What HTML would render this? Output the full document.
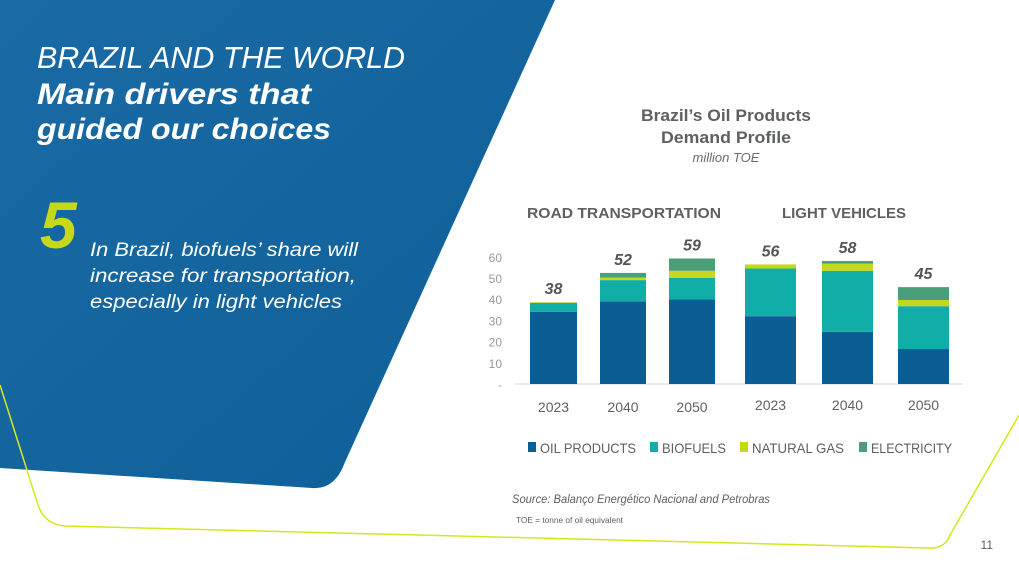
<!DOCTYPE html>
<html><head><meta charset="utf-8"><style>
html,body{margin:0;padding:0;background:#fff}
svg{display:block}
text{font-family:"Liberation Sans",sans-serif}
</style></head><body>
<svg id="s" width="1019" height="573" viewBox="0 0 1019 573" xmlns="http://www.w3.org/2000/svg">
<defs><linearGradient id="g" x1="0" y1="0" x2="1" y2="1"><stop offset="0" stop-color="#1a6aa5"/><stop offset="1" stop-color="#0e5e97"/></linearGradient></defs>
<path d="M0 0 L555 0 L345 462 Q335 490 312 488 L0 468 Z" fill="url(#g)"/>
<path d="M0 385 L38 505 Q45 525 65 526 L928 548 Q945 549 950 535 L1019 415" fill="none" stroke="#d4e81c" stroke-width="1.5"/>
<text x="37" y="68" fill="#fff" font-size="31" font-style="italic" textLength="368" lengthAdjust="spacingAndGlyphs">BRAZIL AND THE WORLD</text>
<text x="37" y="104" fill="#fff" font-size="30" font-weight="bold" font-style="italic" textLength="274" lengthAdjust="spacingAndGlyphs">Main drivers that</text>
<text x="37" y="139" fill="#fff" font-size="30" font-weight="bold" font-style="italic" textLength="294" lengthAdjust="spacingAndGlyphs">guided our choices</text>
<text x="40" y="248" fill="#c6d81a" font-size="66" font-weight="bold" font-style="italic">5</text>
<text x="90" y="256" fill="#fff" font-size="19" font-style="italic" textLength="268" lengthAdjust="spacingAndGlyphs">In Brazil, biofuels’ share will</text>
<text x="90" y="282" fill="#fff" font-size="19" font-style="italic" textLength="266" lengthAdjust="spacingAndGlyphs">increase for transportation,</text>
<text x="90" y="308" fill="#fff" font-size="19" font-style="italic" textLength="252" lengthAdjust="spacingAndGlyphs">especially in light vehicles</text>
<text x="726" y="121" fill="#5f6062" font-size="17" font-weight="bold" text-anchor="middle" textLength="170" lengthAdjust="spacingAndGlyphs">Brazil’s Oil Products</text>
<text x="726" y="143" fill="#5f6062" font-size="17" font-weight="bold" text-anchor="middle" textLength="130" lengthAdjust="spacingAndGlyphs">Demand Profile</text>
<text x="726" y="162" fill="#6a6a6a" font-size="13" font-style="italic" text-anchor="middle">million TOE</text>
<text x="527" y="218" fill="#5f6062" font-size="15" font-weight="bold" textLength="194" lengthAdjust="spacingAndGlyphs">ROAD TRANSPORTATION</text>
<text x="782" y="218" fill="#5f6062" font-size="15" font-weight="bold" textLength="124" lengthAdjust="spacingAndGlyphs">LIGHT VEHICLES</text>
<line x1="515" y1="384" x2="963" y2="384" stroke="#e4e4e4" stroke-width="1.5"/>
<g id="chart"></g>
<g font-size="14" fill="#5f6062">
<rect x="528" y="442" width="8" height="10" fill="#0b5e93"/>
<text x="540" y="453" textLength="96" lengthAdjust="spacingAndGlyphs">OIL PRODUCTS</text>
<rect x="650" y="442" width="8" height="10" fill="#10aea6"/>
<text x="662" y="453" textLength="64" lengthAdjust="spacingAndGlyphs">BIOFUELS</text>
<rect x="740" y="442" width="8" height="10" fill="#c6d81a"/>
<text x="752" y="453" textLength="92" lengthAdjust="spacingAndGlyphs">NATURAL GAS</text>
<rect x="859" y="442" width="8" height="10" fill="#4a9e78"/>
<text x="871" y="453" textLength="81" lengthAdjust="spacingAndGlyphs">ELECTRICITY</text>
</g>
<text x="512" y="503" fill="#5f6062" font-size="12" font-style="italic" textLength="258" lengthAdjust="spacingAndGlyphs">Source: Balanço Energético Nacional and Petrobras</text>
<text x="516" y="523" fill="#5f6062" font-size="8" textLength="107" lengthAdjust="spacingAndGlyphs">TOE = tonne of oil equivalent</text>
<text x="993" y="549" fill="#5f6062" font-size="12" text-anchor="end">11</text>
</svg>
<script>
const categories = ["2023","2040","2050","2023","2040","2050"];
const oilProducts = [34, 39, 40, 32, 24.6, 16.5];
const biofuels = [4.3, 10, 10, 22.5, 28.8, 20.2];
const naturalGas = [0.3, 1.2, 3.4, 1.9, 3.4, 2.9];
const electricity = [0, 2.2, 5.8, 0, 1.2, 6.1];
const totals = ["38","52","59","56","58","45"];
const yTicks = [0,10,20,30,40,50,60];
const yTickLabels = ["-","10","20","30","40","50","60"];

const NS = "http://www.w3.org/2000/svg";
const g = document.getElementById("chart");
const base = 384, unit = 2.12;
function y(v){ return base - v*unit; }
const barX = [530, 600, 669, 745, 822, 898];
const barW = [47, 46, 46, 51, 51, 51];
function mk(tag, attrs){ const e = document.createElementNS(NS, tag); for (const k in attrs) e.setAttribute(k, attrs[k]); g.appendChild(e); return e; }
yTicks.forEach((t,i)=>{
  const e = mk("text",{x:502,y:y(t)+5,"font-size":12,fill:"#9a9a9a","text-anchor":"end"});
  
  
  e.textContent = yTickLabels[i];
});
const series = [[oilProducts,"#0b5e93","oil"],[biofuels,"#10aea6","biofuels"],[naturalGas,"#c6d81a","gas"],[electricity,"#4a9e78","electricity"]];
categories.forEach((c,i)=>{
  let acc = 0;
  series.forEach(([arr,col,nm])=>{
    const v = arr[i]; if (v <= 0) return;
    const r = mk("rect",{x:barX[i],y:y(acc+v),width:barW[i],height:v*unit,fill:col});
    
    
    acc += v;
  });
  const tl = mk("text",{x:barX[i]+barW[i]/2,y:y(acc)-8,"font-size":16,"font-weight":"bold","font-style":"italic",fill:"#555","text-anchor":"middle"});
  
  
  tl.textContent = totals[i];
  const xl = mk("text",{x:barX[i]+barW[i]/2,y:i<3?412:410,"font-size":14,fill:"#5f6062","text-anchor":"middle"});
  
  
  xl.textContent = c;
});
</script>
</body></html>
